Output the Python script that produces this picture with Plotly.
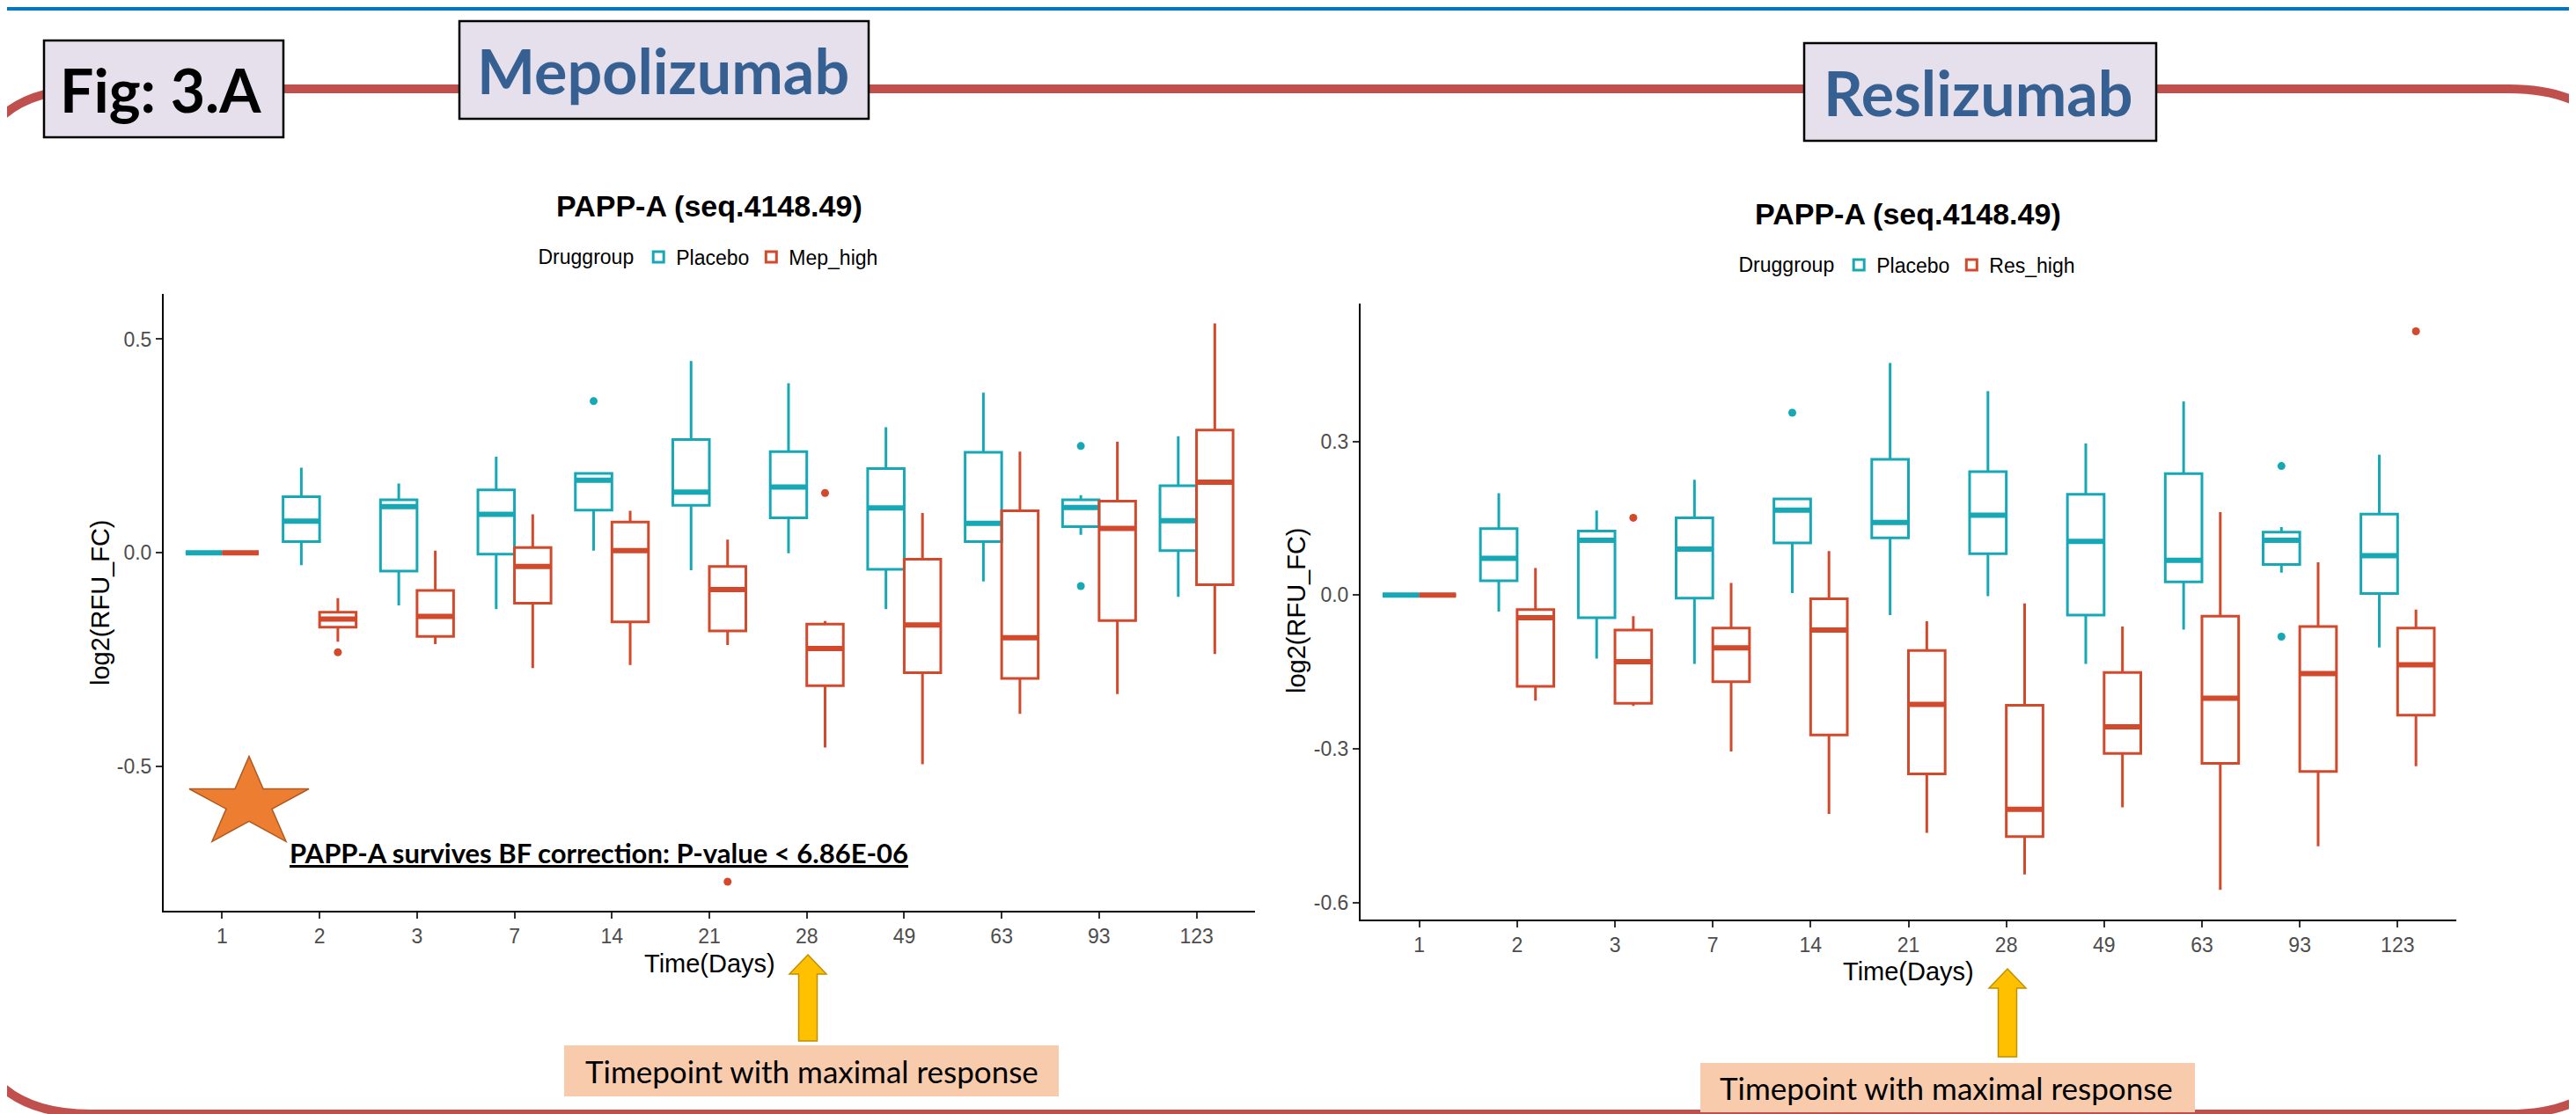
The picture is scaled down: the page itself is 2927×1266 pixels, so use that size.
import numpy as np
import plotly.graph_objects as go

W, H = 2927, 1266
def px(x): return x / W
def py(y): return 1 - y / H

FONT = "Liberation Sans, Arial, sans-serif"
CAL = "Lato, Open Sans, sans-serif"
TEAL = "#16A8B4"
RED = "#D2492B"

days = ['1', '2', '3', '7', '14', '21', '28', '49', '63', '93', '123']

# ---- Mepolizumab panel ----
mep_pla_low = [0, -0.029, -0.123, -0.132, 0.005, -0.041, -0.001, -0.132, -0.067, 0.042, -0.103]
mep_pla_q1 = [0, 0.026, -0.043, -0.003, 0.100, 0.111, 0.082, -0.039, 0.026, 0.061, 0.005]
mep_pla_med = [0, 0.074, 0.108, 0.090, 0.170, 0.142, 0.154, 0.105, 0.069, 0.106, 0.075]
mep_pla_q3 = [0, 0.131, 0.124, 0.147, 0.186, 0.265, 0.237, 0.197, 0.235, 0.124, 0.157]
mep_pla_high = [0, 0.199, 0.162, 0.225, 0.186, 0.449, 0.397, 0.294, 0.375, 0.135, 0.273]
mep_pla_out_day = ['14', '93', '93']
mep_pla_out_val = [0.355, 0.250, -0.078]

mep_hi_low = [0, -0.208, -0.214, -0.270, -0.263, -0.216, -0.456, -0.495, -0.377, -0.331, -0.237]
mep_hi_q1 = [0, -0.174, -0.196, -0.118, -0.162, -0.183, -0.311, -0.281, -0.294, -0.159, -0.075]
mep_hi_med = [0, -0.155, -0.149, -0.032, 0.005, -0.086, -0.224, -0.169, -0.199, 0.057, 0.165]
mep_hi_q3 = [0, -0.139, -0.088, 0.012, 0.072, -0.032, -0.167, -0.015, 0.098, 0.121, 0.287]
mep_hi_high = [0, -0.106, 0.005, 0.090, 0.098, 0.031, -0.160, 0.093, 0.237, 0.260, 0.537]
mep_hi_out_day = ['2', '21', '28']
mep_hi_out_val = [-0.233, -0.770, 0.140]

# ---- Reslizumab panel ----
res_pla_low = [0, -0.032, -0.124, -0.134, 0.004, -0.039, -0.002, -0.134, -0.067, 0.044, -0.102]
res_pla_q1 = [0, 0.028, -0.044, -0.006, 0.102, 0.112, 0.081, -0.039, 0.026, 0.060, 0.003]
res_pla_med = [0, 0.072, 0.107, 0.090, 0.166, 0.142, 0.156, 0.105, 0.068, 0.107, 0.077]
res_pla_q3 = [0, 0.130, 0.125, 0.151, 0.188, 0.265, 0.241, 0.197, 0.237, 0.123, 0.158]
res_pla_high = [0, 0.199, 0.165, 0.225, 0.188, 0.453, 0.398, 0.296, 0.378, 0.133, 0.274]
res_pla_out_day = ['14', '93', '93']
res_pla_out_val = [0.356, 0.252, -0.081]

res_hi_low = [0, -0.206, -0.216, -0.305, -0.427, -0.464, -0.545, -0.414, -0.575, -0.490, -0.334]
res_hi_q1 = [0, -0.178, -0.211, -0.169, -0.273, -0.349, -0.471, -0.309, -0.328, -0.344, -0.234]
res_hi_med = [0, -0.044, -0.130, -0.103, -0.068, -0.213, -0.418, -0.257, -0.201, -0.153, -0.136]
res_hi_q3 = [0, -0.028, -0.068, -0.064, -0.007, -0.108, -0.215, -0.151, -0.041, -0.061, -0.064]
res_hi_high = [0, 0.053, -0.041, 0.024, 0.086, -0.051, -0.016, -0.061, 0.162, 0.064, -0.028]
res_hi_out_day = ['3', '123']
res_hi_out_val = [0.151, 0.515]

fig = go.Figure()

def add_group(low, q1, med, q3, high, out_x, out_y, name, color, og, xa, ya, leg):
    fig.add_trace(go.Box(
        x=days, lowerfence=low, q1=q1, median=med, q3=q3, upperfence=high,
        name=name, line=dict(color=color, width=3), fillcolor='rgba(255,255,255,0)',
        whiskerwidth=0, boxpoints=False, offsetgroup=og, alignmentgroup=xa,
        xaxis=xa, yaxis=ya, legend=leg, hoverinfo='skip'))
    # thick median (ggplot fatten)
    fig.add_trace(go.Box(
        x=days, lowerfence=med, q1=med, median=med, q3=med, upperfence=med,
        name=name, line=dict(color=color, width=6), fillcolor='rgba(255,255,255,0)',
        whiskerwidth=0, boxpoints=False, offsetgroup=og, alignmentgroup=xa,
        xaxis=xa, yaxis=ya, showlegend=False, legend=leg, hoverinfo='skip'))
    # outliers
    fig.add_trace(go.Box(
        x=out_x, y=out_y, name=name, boxpoints='all', jitter=0, pointpos=0,
        line=dict(color='rgba(0,0,0,0)', width=0), fillcolor='rgba(0,0,0,0)',
        marker=dict(color=color, size=9), offsetgroup=og, alignmentgroup=xa,
        xaxis=xa, yaxis=ya, showlegend=False, legend=leg, hoverinfo='skip'))

add_group(mep_pla_low, mep_pla_q1, mep_pla_med, mep_pla_q3, mep_pla_high,
          mep_pla_out_day, mep_pla_out_val, 'Placebo', TEAL, 'P', 'x', 'y', 'legend')
add_group(mep_hi_low, mep_hi_q1, mep_hi_med, mep_hi_q3, mep_hi_high,
          mep_hi_out_day, mep_hi_out_val, 'Mep_high', RED, 'D', 'x', 'y', 'legend')
add_group(res_pla_low, res_pla_q1, res_pla_med, res_pla_q3, res_pla_high,
          res_pla_out_day, res_pla_out_val, 'Placebo', TEAL, 'P2', 'x2', 'y2', 'legend2')
add_group(res_hi_low, res_hi_q1, res_hi_med, res_hi_q3, res_hi_high,
          res_hi_out_day, res_hi_out_val, 'Res_high', RED, 'D2', 'x2', 'y2', 'legend2')

axis_common = dict(showline=True, linecolor='black', linewidth=2, ticks='outside',
                   ticklen=7, tickwidth=2, tickcolor='#333333', showgrid=False,
                   zeroline=False, tickfont=dict(size=23, color='#4D4D4D', family=FONT))

legend_common = dict(orientation='h', xanchor='center', yanchor='middle',
                     bgcolor='rgba(0,0,0,0)', font=dict(size=23, color='black', family=FONT),
                     title=dict(text='Druggroup', side='left', font=dict(size=23, color='black', family=FONT)),
                     itemwidth=30, tracegroupgap=0)

fig.update_layout(
    width=W, height=H, margin=dict(l=0, r=0, t=0, b=0),
    paper_bgcolor='white', plot_bgcolor='white',
    boxmode='group', boxgap=0.25, boxgroupgap=0,
    xaxis=dict(domain=[px(178), px(1418)], type='category', categoryorder='array',
               categoryarray=days, range=[-0.6, 10.6], anchor='y', **axis_common),
    yaxis=dict(domain=[py(1027), py(326)], range=[-0.838, 0.606], anchor='x',
               tickvals=[-0.5, 0, 0.5], ticktext=['-0.5', '0.0', '0.5'], **axis_common),
    xaxis2=dict(domain=[px(1538), px(2783)], type='category', categoryorder='array',
                categoryarray=days, range=[-0.6, 10.6], anchor='y2', **axis_common),
    yaxis2=dict(domain=[py(1037), py(337)], range=[-0.633, 0.569], anchor='x2',
                tickvals=[-0.6, -0.3, 0, 0.3], ticktext=['-0.6', '-0.3', '0.0', '0.3'], **axis_common),
    legend=dict(x=px(798), y=py(284), **legend_common),
    legend2=dict(x=px(2160), y=py(293), **legend_common),
)

shapes = []
# top blue rule
shapes.append(dict(type='rect', xref='paper', yref='paper', x0=0, x1=1, y0=py(4), y1=py(0),
                   fillcolor='#0077BE', line=dict(width=0)))

# red rounded frame
def P(x, y): return f"{px(x):.5f},{py(y):.5f}"
xL, xR, top, bot, r = -45, 2983, 93, 1258, 140
frame = (f"M {P(xL, top + r)} Q {P(xL, top)} {P(xL + r, top)} L {P(xR - r, top)} "
         f"Q {P(xR, top)} {P(xR, top + r)} L {P(xR, bot - r)} Q {P(xR, bot)} {P(xR - r, bot)} "
         f"L {P(xL + r, bot)} Q {P(xL, bot)} {P(xL, bot - r)} Z")
shapes.append(dict(type='path', xref='paper', yref='paper', path=frame,
                   line=dict(color='#C0504D', width=10)))

# header boxes
for (x0, y0, x1, y1) in [(42, 38, 314, 148), (514, 16, 979, 127), (2042, 41, 2442, 152)]:
    shapes.append(dict(type='rect', xref='paper', yref='paper', x0=px(x0), x1=px(x1),
                       y0=py(y1), y1=py(y0), fillcolor='#E6E0EC', line=dict(color='black', width=2.5)))

# star
cx, cy, rx, ry = 275, 905, 71.5, 53.5
pts = []
for k in range(10):
    ang = np.pi / 2 + k * np.pi / 5
    rr = 1.0 if k % 2 == 0 else 0.382
    pts.append((cx + rx * rr * np.cos(ang), cy - ry * rr * np.sin(ang)))
star = "M " + " L ".join(P(a, b) for a, b in pts) + " Z"
shapes.append(dict(type='path', xref='paper', yref='paper', path=star,
                   fillcolor='#ED7D31', line=dict(color='#AE5A21', width=1.5)))

# block arrows
def arrow(xc, ytop, yhead, ybot, hw=21, sw=10.5):
    p = [(xc, ytop), (xc + hw, yhead), (xc + sw, yhead), (xc + sw, ybot),
         (xc - sw, ybot), (xc - sw, yhead), (xc - hw, yhead)]
    return "M " + " L ".join(P(a, b) for a, b in p) + " Z"
for (xc, yt, yh, yb) in [(910, 1077, 1099, 1175), (2273, 1093, 1115, 1193)]:
    shapes.append(dict(type='path', xref='paper', yref='paper', path=arrow(xc, yt, yh, yb),
                       fillcolor='#FFC000', line=dict(color='#BF9000', width=1.5)))

# peach boxes
for (x0, y0, x1, y1) in [(633, 1180, 1195, 1238), (1924, 1200, 2486, 1256)]:
    shapes.append(dict(type='rect', xref='paper', yref='paper', x0=px(x0), x1=px(x1),
                       y0=py(y1), y1=py(y0), fillcolor='#F8CBAD', line=dict(width=0)))

fig.update_layout(shapes=shapes)

ann = []
def A(x, y, text, size, family=FONT, color='black', xanchor='center', angle=0, **kw):
    ann.append(dict(xref='paper', yref='paper', x=px(x), y=py(y), text=text, showarrow=False,
                    xanchor=xanchor, yanchor='middle', textangle=angle,
                    font=dict(size=size, family=family, color=color, **kw)))

A(174, 93, '<b>Fig: 3.A</b>', 68, CAL)
A(745, 72, '<b>Mepolizumab</b>', 70, CAL, '#366092')
A(2240, 97, '<b>Reslizumab</b>', 70, CAL, '#366092')

A(798, 226, '<b>PAPP-A (seq.4148.49)</b>', 34)
A(2160, 235, '<b>PAPP-A (seq.4148.49)</b>', 34)

A(106, 676, 'log2(RFU_FC)', 29, angle=-90)
A(1465, 686, 'log2(RFU_FC)', 29, angle=-90)
A(798, 1087, 'Time(Days)', 29)
A(2160, 1096, 'Time(Days)', 29)

A(319, 961, '<b>PAPP-A survives BF correction: P-value &lt; 6.86E-06</b>', 31, CAL,
  xanchor='left', lineposition='under')
A(914, 1209, 'Timepoint with maximal response', 35, CAL)
A(2203, 1228, 'Timepoint with maximal response', 35, CAL)

fig.update_layout(annotations=ann)

fig.write_html("out.html")
